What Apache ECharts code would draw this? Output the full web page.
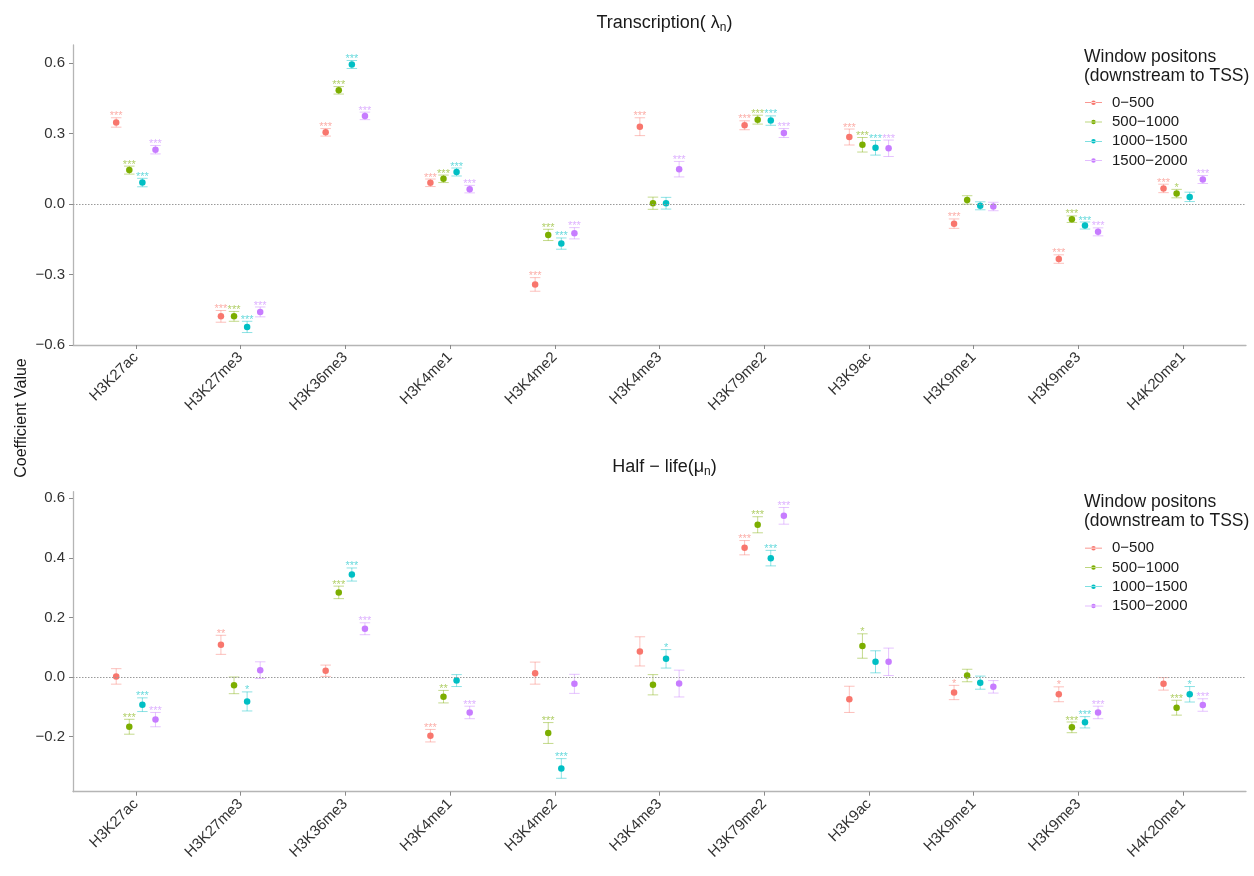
<!DOCTYPE html>
<html>
<head>
<meta charset="utf-8">
<script src="https://cdn.jsdelivr.net/npm/echarts@6/dist/echarts.min.js"></script>
<style>
html,body{margin:0;padding:0;background:#fff;}
#c{width:1254px;height:876px;}
</style>
</head>
<body>
<div id="c"></div>
<script>
// ---------- data ----------
const categories = ['H3K27ac','H3K27me3','H3K36me3','H3K4me1','H3K4me2','H3K4me3','H3K79me2','H3K9ac','H3K9me1','H3K9me3','H4K20me1'];
const groups = ['0\u2212500','500\u22121000','1000\u22121500','1500\u22122000'];
const colors = ['#F8766D','#7CAE00','#00BFC4','#C77CFF'];
const legendTitle = 'Window positons\n(downstream to TSS)';
const trTicks = [-0.6,-0.3,0,0.3,0.6];
const hlTicks = [-0.2,0,0.2,0.4,0.6];

// Transcription (lambda_n)
const trEst1 = [0.348,-0.478,0.306,0.091,-0.342,0.330,0.336,0.286,-0.083,-0.234,0.067];
const trErr1 = [0.020,0.025,0.016,0.016,0.029,0.038,0.019,0.034,0.020,0.018,0.018];
const trSig1 = ['***','***','***','***','***','***','***','***','***','***','***'];
const trEst2 = [0.145,-0.478,0.485,0.108,-0.131,0.004,0.360,0.253,0.018,-0.064,0.045];
const trErr2 = [0.017,0.021,0.016,0.016,0.024,0.026,0.019,0.031,0.018,0.014,0.018];
const trSig2 = ['***','***','***','***','***','','***','***','','***','*'];
const trEst3 = [0.092,-0.523,0.595,0.137,-0.168,0.004,0.356,0.240,-0.007,-0.091,0.031];
const trErr3 = [0.018,0.024,0.017,0.017,0.024,0.025,0.020,0.031,0.017,0.015,0.020];
const trSig3 = ['***','***','***','***','***','','***','***','','***',''];
const trEst4 = [0.232,-0.459,0.376,0.064,-0.124,0.149,0.303,0.238,-0.010,-0.118,0.105];
const trErr4 = [0.018,0.021,0.016,0.016,0.024,0.033,0.019,0.035,0.018,0.017,0.017];
const trSig4 = ['***','***','***','***','***','***','***','***','','***','***'];

// Half-life (mu_n)
const hlEst1 = [0.002,0.108,0.021,-0.197,0.013,0.086,0.434,-0.075,-0.052,-0.058,-0.023];
const hlErr1 = [0.026,0.032,0.019,0.021,0.037,0.049,0.024,0.044,0.024,0.025,0.021];
const hlSig1 = ['','**','','***','','','***','','*','*',''];
const hlEst2 = [-0.167,-0.028,0.284,-0.066,-0.188,-0.026,0.511,0.104,0.005,-0.169,-0.103];
const hlErr2 = [0.025,0.028,0.021,0.021,0.035,0.034,0.027,0.041,0.021,0.018,0.025];
const hlSig2 = ['***','','***','**','***','','***','*','','***','***'];
const hlEst3 = [-0.093,-0.082,0.344,-0.012,-0.307,0.061,0.399,0.051,-0.019,-0.152,-0.058];
const hlErr3 = [0.023,0.032,0.022,0.020,0.033,0.031,0.026,0.037,0.022,0.019,0.026];
const hlSig3 = ['***','*','***','','***','*','***','','','***','*'];
const hlEst4 = [-0.143,0.023,0.162,-0.119,-0.023,-0.022,0.541,0.051,-0.033,-0.119,-0.094];
const hlErr4 = [0.024,0.028,0.020,0.021,0.032,0.045,0.028,0.046,0.021,0.021,0.021];
const hlSig4 = ['***','','***','***','','','***','','','***','***'];

// ---------- build ----------
const FONT = '"Liberation Sans", Arial, Helvetica, sans-serif';
const dodge = [-0.1875,-0.0625,0.0625,0.1875];
const catPos = categories.map((c,i)=>i+1);
const panels = [
  {est:[trEst1,trEst2,trEst3,trEst4], err:[trErr1,trErr2,trErr3,trErr4], sig:[trSig1,trSig2,trSig3,trSig4]},
  {est:[hlEst1,hlEst2,hlEst3,hlEst4], err:[hlErr1,hlErr2,hlErr3,hlErr4], sig:[hlSig1,hlSig2,hlSig3,hlSig4]}
];

function hexA(hex,a){
  const r=parseInt(hex.slice(1,3),16),g=parseInt(hex.slice(3,5),16),b=parseInt(hex.slice(5,7),16);
  return 'rgba('+r+','+g+','+b+','+a+')';
}

const series = [];
panels.forEach((p,pi)=>{
  groups.forEach((gname,gi)=>{
    const s = {
      type:'scatter', name:gname, xAxisIndex:pi, yAxisIndex:pi, z:3,
      symbol:'circle', symbolSize:6.5, itemStyle:{color:colors[gi], opacity:1},
      data: p.est[gi].map((v,i)=>[catPos[i]+dodge[gi], v])
    };
    if(gi===0){
      s.markLine={silent:true,symbol:'none',label:{show:false},animation:false,
        lineStyle:{type:[1.5,1.5],color:'#9a9a9a',width:1},data:[{yAxis:0}]};
    }
    series.push(s);
  });
  groups.forEach((gname,gi)=>{
    const sig = p.sig[gi];
    const col = colors[gi];
    series.push({
      type:'custom', name:gname, xAxisIndex:pi, yAxisIndex:pi, z:1, silent:true,
      itemStyle:{color:col},
      data: p.est[gi].map((v,i)=>[catPos[i]+dodge[gi], v, p.err[gi][i]]),
      renderItem:(params,api)=>{
        const x=api.value(0), y=api.value(1), e=api.value(2);
        const top=api.coord([x,y+e]), bot=api.coord([x,y-e]);
        const hw=api.size([0.05,0])[0];
        const ls={stroke:hexA(col,0.45), lineWidth:1};
        const ch=[
          {type:'line',shape:{x1:top[0],y1:top[1],x2:bot[0],y2:bot[1]},style:ls},
          {type:'line',shape:{x1:top[0]-hw,y1:top[1],x2:top[0]+hw,y2:top[1]},style:ls},
          {type:'line',shape:{x1:bot[0]-hw,y1:bot[1],x2:bot[0]+hw,y2:bot[1]},style:ls}
        ];
        const s=sig[params.dataIndex];
        if(s){
          ch.push({type:'text',x:top[0],y:top[1]-1.5,style:{text:s,fill:hexA(col,0.6),font:'11px '+FONT,textAlign:'center',textVerticalAlign:'middle'}});
        }
        return {type:'group',children:ch};
      }
    });
  });
});

const gridLeft=73, gridWidth=1173;
function xAxisFor(i){
  return {
    type:'value', gridIndex:i, min:0.4, max:11.6,
    splitLine:{show:false},
    axisLine:{show:true,onZero:false,lineStyle:{color:'#b5b5b5',width:1.3}},
    axisTick:{show:true,length:4,customValues:catPos,lineStyle:{color:'#8a8a8a'}},
    axisLabel:{customValues:catPos,rotate:45,margin:10,fontSize:15,color:'#333333',fontFamily:FONT,
      formatter:v=>categories[Math.round(v)-1]||''}
  };
}
function yAxisFor(i,min,max,ticks){
  return {
    type:'value', gridIndex:i, min:min, max:max,
    splitLine:{show:false},
    axisLine:{show:true,lineStyle:{color:'#b5b5b5',width:1.3}},
    axisTick:{show:true,length:4,customValues:ticks,lineStyle:{color:'#8a8a8a'}},
    axisLabel:{customValues:ticks,margin:8,fontSize:15,color:'#333333',fontFamily:FONT,
      formatter:v=>v.toFixed(1).replace('-','\u2212')}
  };
}

const legendIcon='path://M0,9.4h34v1.2h-34z M12.5,10a4.5,4.5 0 1,0 9,0a4.5,4.5 0 1,0 -9,0z';
function legendFor(top){
  return {
    data:groups.map(g=>({name:g,icon:legendIcon})),
    orient:'vertical', left:1080, top:top, itemWidth:17, itemHeight:10, itemGap:0,
    selectedMode:false,
    textStyle:{fontSize:15,lineHeight:19.3,color:'#1a1a1a',fontFamily:FONT,padding:[0,0,0,5]}
  };
}

const subRich={
  m:{fontSize:18,fontFamily:FONT,color:'#1a1a1a',fontWeight:'normal'},
  s:{fontSize:12,fontFamily:FONT,color:'#1a1a1a',fontWeight:'normal',padding:[9,0,0,0]}
};

const option={
  animation:false,
  backgroundColor:'#fff',
  title:[
    {text:'{m|Transcription( \u03bb}{s|n}{m|)}',left:659.5,top:8,textAlign:'center',textStyle:{fontWeight:'normal',rich:subRich}},
    {text:'{m|Half \u2212 life(\u03bc}{s|n}{m|)}',left:659.5,top:452,textAlign:'center',textStyle:{fontWeight:'normal',rich:subRich}},
    {text:legendTitle,left:1079,top:42.5,textStyle:{fontSize:17.5,lineHeight:19,fontWeight:'normal',color:'#1a1a1a',fontFamily:FONT}},
    {text:legendTitle,left:1079,top:488,textStyle:{fontSize:17.5,lineHeight:19,fontWeight:'normal',color:'#1a1a1a',fontFamily:FONT}}
  ],
  legend:[legendFor(88), legendFor(533.5)],
  grid:[
    {left:gridLeft,width:gridWidth,top:45,height:300,containLabel:false},
    {left:gridLeft,width:gridWidth,top:491.7,height:300,containLabel:false}
  ],
  xAxis:[xAxisFor(0),xAxisFor(1)],
  yAxis:[yAxisFor(0,-0.6,0.678,trTicks),yAxisFor(1,-0.385,0.622,hlTicks)],
  graphic:[{type:'text',x:21.7,y:418,rotation:Math.PI/2,
    style:{text:'Coefficient Value',font:'16px '+FONT,fill:'#1a1a1a',textAlign:'center',textVerticalAlign:'middle'}}],
  series:series
};

const chart=echarts.init(document.getElementById('c'),null,{renderer:'canvas'});
chart.setOption(option);
</script>
</body>
</html>
